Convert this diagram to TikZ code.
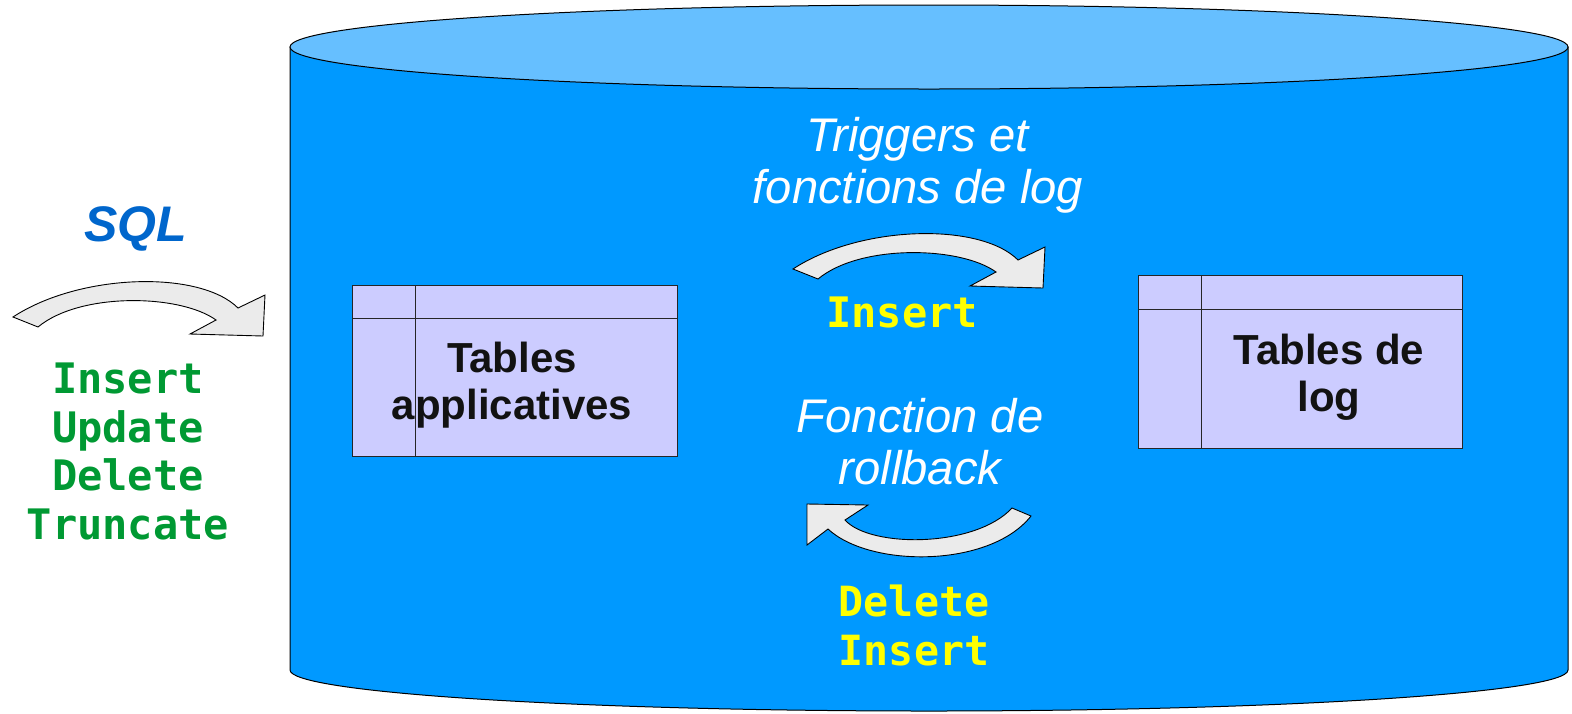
\documentclass[tikz,border=0pt]{standalone}
\usepackage{fontspec}
\setmainfont{Liberation Sans}
\setmonofont{DejaVu Sans Mono}
\usepackage{tikz}
\usetikzlibrary{calc}

\definecolor{cylbody}{RGB}{0,153,255}
\definecolor{cyltop}{RGB}{102,191,255}
\definecolor{tabfill}{RGB}{204,204,255}
\definecolor{sqlblue}{RGB}{0,102,204}
\definecolor{opgreen}{RGB}{0,153,51}
\definecolor{opyellow}{RGB}{255,255,0}

\begin{document}
\begin{tikzpicture}[x=0.5pt,y=-0.5pt,
    bentarrow/.style={draw=black,line width=0.45pt,fill=black!8},
    tabbox/.style={draw=black!85,line width=0.5pt,fill=tabfill},
    tabtxt/.style={inner sep=0pt,align=center,text=black!93,font=\bfseries\fontsize{21}{23.5}\selectfont},
    note/.style={inner sep=0pt,align=center,text=white,font=\itshape\fontsize{23.6}{26}\selectfont},
    sqlop/.style={inner sep=0pt,align=center,font=\ttfamily\bfseries\fontsize{21}{24.3}\selectfont}]
      \useasboundingbox (0,0) rectangle (1572,713);
      % la base
      \draw[line width=0.5pt,fill=cylbody] (290,47) -- (290,670)
        arc[start angle=180,end angle=0,x radius=639,y radius=41] -- (1568,47) -- cycle;
      \draw[line width=0.5pt,fill=cyltop] (929,47) ellipse[x radius=639,y radius=42];
      % tables
      \draw[tabbox] (352,285) rectangle (677,456);
      \draw[draw=black!85,line width=0.5pt] (352,318) -- (677,318) (415,285) -- (415,456);
      \draw[tabbox] (1138,275) rectangle (1462,448);
      \draw[draw=black!85,line width=0.5pt] (1138,309) -- (1462,309) (1201,275) -- (1201,448);
      \node[tabtxt] (tapp) at (512,385.5) {Tables\\applicatives};
      \node[tabtxt] (tlog) at (1329,377) {Tables de\\log};
      % fleches
      \draw[bentarrow,shift={(13,317)}] (0,0) .. controls (67,-44) and (187,-47) .. (225,-9)
        -- (252,-22) -- (250,19) -- (177,17) -- (203,3) .. controls (167,-23) and (67,-25) .. (25,10) -- cycle;
      \draw[bentarrow,shift={(793,269)}] (0,0) .. controls (67,-44) and (187,-47) .. (225,-9)
        -- (252,-22) -- (250,19) -- (177,17) -- (203,3) .. controls (167,-23) and (67,-25) .. (25,10) -- cycle;
      \draw[bentarrow] (807,504) -- (868,505) -- (845,520) .. controls (870,548) and (975,548) .. (1012,508)
        -- (1031,516) .. controls (990,568) and (870,568) .. (828,529) -- (807,545) -- cycle;
      % textes
      \node[inner sep=0pt,text=sqlblue,font=\bfseries\itshape\fontsize{25}{30}\selectfont] (sql) at (136,229) {SQL};
      \node[sqlop,text=opgreen] (ops) at (128,451.5) {Insert\\Update\\Delete\\Truncate};
      \node[note] (trig) at (918,165.5) {Triggers et\\fonctions de log};
      \node[sqlop,text=opyellow] (ins) at (902,312) {Insert};
      \node[note] (rb) at (920,441.5) {Fonction de\\rollback};
      \node[sqlop,text=opyellow,font=\ttfamily\bfseries\fontsize{20.8}{24.5}\selectfont] (delins) at (914,625) {Delete\\Insert};
\end{tikzpicture}
\end{document}
